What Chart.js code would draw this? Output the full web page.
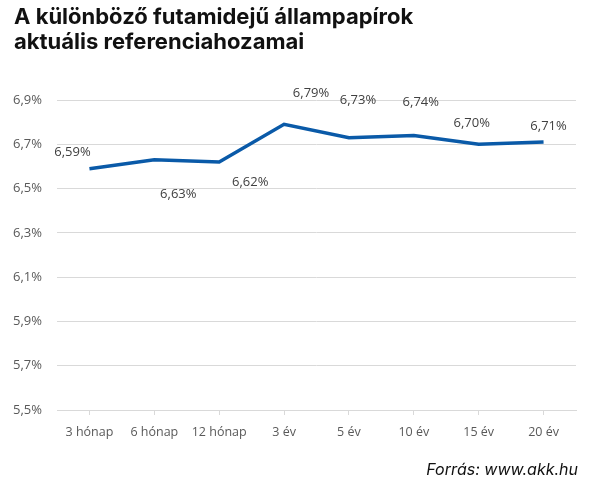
<!DOCTYPE html>
<html>
<head>
<meta charset="utf-8">
<script src="https://cdn.jsdelivr.net/npm/chart.js@4.4.0/dist/chart.umd.min.js"></script>
<style>
    html, body { margin: 0; padding: 0; background: #fff; }
    #wrap { position: relative; width: 600px; height: 485px; overflow: hidden; }
    #title {
        position: absolute; left: 14px; top: 4px;
        font-family: "Inter", "Lato", sans-serif; font-weight: 700;
        font-size: 22px; line-height: 25px; color: #111;
    }
    #source {
        position: absolute; right: 22px; top: 459px;
        font-family: "Inter", "Lato", sans-serif; font-style: italic;
        font-size: 16px; color: #111;
    }
    #chart-box { position: absolute; left: 0; top: 0; width: 600px; height: 485px; }
</style>
</head>
<body>
<div id="wrap">
    <div id="chart-box"><canvas id="yield-chart"></canvas></div>
    <div id="title">A különböző futamidejű állampapírok<br>aktuális referenciahozamai</div>
    <div id="source">Forrás: www.akk.hu</div>
</div>
<script>
    "use strict";

    // Data
    const maturities = ['3 hónap', '6 hónap', '12 hónap', '3 év', '5 év', '10 év', '15 év', '20 év'];
    const yields = [6.59, 6.63, 6.62, 6.79, 6.73, 6.74, 6.70, 6.71];
    const yTicks = [5.5, 5.7, 5.9, 6.1, 6.3, 6.5, 6.7, 6.9];

    // Label placement (pixels relative to point), mimics the original
    const labelOffsets = [[-17, -16], [24, 35], [31, 20], [27, -31], [9, -37], [7, -33], [-7, -21], [5, -16]];

    function fmtPct(v, digits) {
        return v.toFixed(digits).replace('.', ',') + '%';
    }

    // Draws the value labels next to the points
    const valueLabels = {
        id: 'valueLabels',
        afterDatasetsDraw(chart) {
            const ctx = chart.ctx;
            const meta = chart.getDatasetMeta(0);
            ctx.save();
            ctx.font = '13px "Open Sans", sans-serif';
            ctx.fillStyle = '#404040';
            ctx.textAlign = 'center';
            ctx.textBaseline = 'middle';
            meta.data.forEach(function(pt, i) {
                const off = labelOffsets[i];
                ctx.fillText(fmtPct(yields[i], 2), pt.x + off[0], pt.y + off[1]);
            });
            ctx.restore();
        }
    };

    const ctx = document.getElementById('yield-chart');
    new Chart(ctx, {
        type: 'line',
        data: {
            labels: maturities,
            datasets: [{
                data: yields,
                borderColor: '#0a5aa8',
                borderWidth: 3.5,
                pointRadius: 0,
                tension: 0,
                fill: false
            }]
        },
        options: {
            responsive: true,
            maintainAspectRatio: false,
            animation: false,
            layout: { padding: { left: 0, right: 24, top: 100, bottom: 35 } },
            plugins: {
                legend: { display: false },
                tooltip: { enabled: false }
            },
            scales: {
                x: {
                    offset: true,
                    afterFit: function(scale) { scale.height = 40; },
                    grid: {
                        drawOnChartArea: false,
                        drawTicks: true,
                        tickLength: 5,
                        color: '#d9d9d9'
                    },
                    border: { color: '#d9d9d9' },
                    ticks: {
                        color: '#595959',
                        font: { family: '"Open Sans", sans-serif', size: 12.5 },
                        padding: 10,
                        maxRotation: 0,
                        autoSkip: false
                    }
                },
                y: {
                    min: 5.5,
                    max: 6.9,
                    afterFit: function(scale) { scale.width = 57; },
                    afterBuildTicks: function(scale) {
                        scale.ticks = yTicks.map(function(v) { return { value: v }; });
                    },
                    grid: {
                        color: '#d9d9d9',
                        drawTicks: false
                    },
                    border: { display: false },
                    ticks: {
                        color: '#595959',
                        font: { family: '"Open Sans", sans-serif', size: 13 },
                        padding: 15,
                        callback: function(value) { return fmtPct(value, 1); }
                    }
                }
            }
        },
        plugins: [valueLabels]
    });
</script>
</body>
</html>
